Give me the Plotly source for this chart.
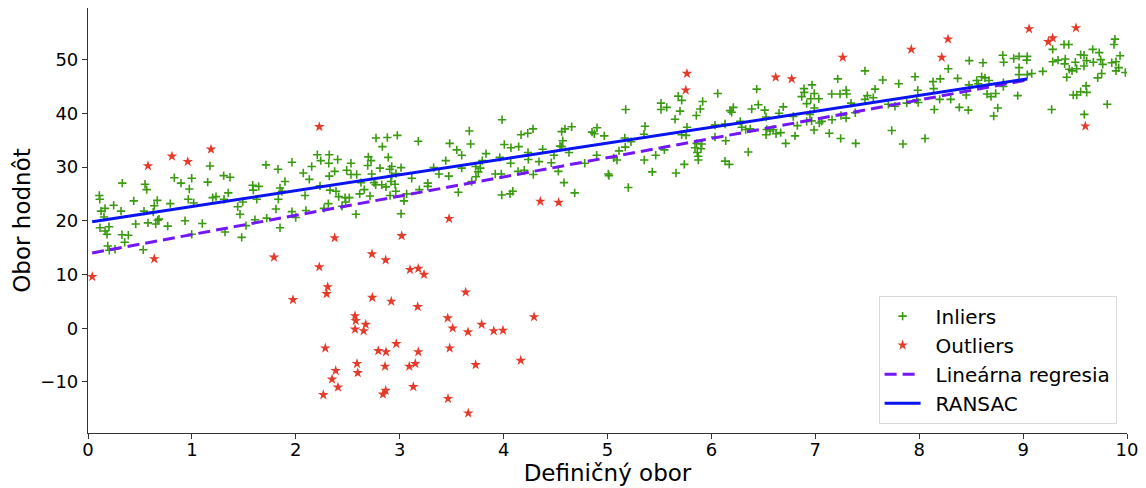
import plotly.graph_objects as go

# Inlier samples (x, y)
inlier_x = [
    0.109, 0.113, 0.330, 0.549, 0.565, 0.831, 0.895, 0.998, 1.174, 1.152, 0.975, 1.306, 0.247, 0.440, 0.667,
    0.638, 0.792, 0.965, 1.017, 1.200, 1.232, 0.164, 0.125, 0.318, 0.539, 0.628, 0.154, 0.683, 0.671, 0.115,
    0.164, 0.202, 0.183, 0.459, 0.577, 0.652, 0.767, 0.934, 1.100, 0.327, 0.388, 0.353, 0.190, 0.260, 0.205,
    0.532, 0.998,
    1.367, 1.713, 1.829, 1.963, 2.207, 2.322, 2.240, 2.317, 2.403, 2.531, 2.072, 2.153, 2.374, 2.490, 2.531,
    2.586, 2.322, 2.130, 1.896, 1.585, 1.643, 1.591, 1.848, 1.867, 1.350, 2.233, 2.329, 2.387, 2.413, 2.474,
    2.515, 2.480, 1.309, 1.489, 1.624, 1.832, 2.089, 1.441, 1.463, 1.809, 1.963, 1.999, 2.098, 2.271, 2.313,
    2.445, 2.579, 1.607, 1.720, 1.521, 1.319, 1.848, 1.479,
    2.772, 2.881, 2.977, 2.833, 3.179, 3.670, 3.683, 3.481, 3.549, 3.597, 3.831, 2.698, 2.724, 2.890, 2.692,
    2.810, 2.904, 2.923, 3.013, 3.443, 3.327, 3.597, 3.731, 3.776, 3.795, 2.731, 2.923, 2.964, 3.116,
    3.378, 3.472, 3.734, 3.756, 2.627, 2.753, 2.769, 2.827, 2.868, 2.916, 2.955, 3.270, 3.270, 3.189, 2.659,
    2.615, 2.714, 2.962, 2.907, 3.067, 3.564, 3.693, 3.041, 3.013,
    3.985, 5.175, 4.168, 4.232, 4.283, 4.559, 4.591, 4.655, 4.569, 4.543, 4.559, 4.851, 4.873, 4.899, 4.969,
    4.007, 4.071, 4.145, 4.235, 4.376, 4.629, 4.485, 3.963, 4.238, 4.341, 4.068, 4.459, 4.896, 5.111, 5.171,
    5.166, 5.060, 5.091, 4.781, 3.920, 3.978, 4.139, 4.199, 4.286, 4.527, 5.008, 5.014, 4.581, 4.088, 4.062,
    3.982, 4.684, 5.200,
    5.515, 5.515, 5.570, 5.681, 5.714, 5.916, 5.893, 6.061, 5.698, 5.855, 5.650, 6.436, 6.451, 6.388,
    6.179, 6.195, 6.211, 5.361, 5.765, 5.351, 6.035, 6.131, 6.278, 6.292, 6.330, 6.374, 5.226, 5.756,
    5.714, 6.035, 6.138, 5.547, 5.858, 5.907, 5.842, 5.900, 5.864, 5.874, 5.874, 5.464, 5.354, 5.739,
    6.355, 6.131, 6.172, 5.431, 5.659,
    7.478, 7.649, 7.803, 7.216, 6.968, 6.891, 6.894, 6.990, 7.296, 7.302, 7.238, 7.158, 7.575, 7.501, 7.478,
    7.558, 6.869, 6.956, 7.033, 6.917, 6.990, 7.344, 6.692, 6.513, 6.651, 6.949, 6.788, 6.526, 7.385, 7.296,
    7.247, 7.161, 6.917, 6.965, 7.039, 7.062, 6.827, 7.767, 7.703, 6.532, 6.564, 6.596, 6.622, 6.526, 6.667,
    6.805, 6.988, 7.135, 6.715, 7.244, 7.389, 7.736,
    8.804, 8.910, 8.961, 9.040, 9.035, 8.813, 8.614, 8.482, 8.280, 8.961, 8.961, 9.040, 9.083, 7.960,
    8.133, 8.203, 8.370, 8.601, 8.633, 8.672, 8.553, 8.569, 8.479, 8.810, 8.810, 7.986, 8.139, 8.453, 8.653,
    8.736, 8.691, 8.948, 8.197, 8.303, 7.976, 7.991, 7.880, 8.386, 8.473, 8.145, 8.756, 8.717, 8.056,
    7.844,
    9.884, 9.875, 9.394, 9.439, 9.285, 9.670, 9.733, 9.554, 9.586, 9.933, 9.285, 9.336, 9.406, 9.400, 9.503,
    9.612, 9.676, 9.747, 9.766, 9.853, 9.894, 9.920, 9.894, 9.984, 9.189, 9.445, 9.471, 9.516, 9.586,
    9.756, 9.718, 9.420, 9.606, 9.554, 9.612, 9.516, 9.483, 9.810, 9.275, 9.589,
]
inlier_y = [
    24.7, 24.0, 27.0, 26.8, 25.8, 28.0, 27.0, 27.9, 30.2, 27.2, 25.9, 28.4, 22.9, 23.7, 23.8,
    22.8, 23.2, 24.0, 23.3, 24.3, 24.5, 22.3, 21.8, 21.8, 21.8, 21.6, 20.7, 20.3, 20.1, 18.7,
    18.1, 18.9, 17.5, 19.4, 19.6, 19.4, 19.0, 20.0, 19.5, 17.4, 17.3, 16.0, 15.3, 14.7, 14.5,
    14.6, 17.5,
    28.1, 30.4, 29.6, 30.9, 32.3, 32.3, 31.2, 30.7, 31.4, 30.7, 28.9, 30.1, 29.2, 29.4, 28.6,
    28.6, 28.3, 27.7, 27.3, 26.6, 26.4, 25.7, 26.1, 25.5, 25.2, 26.5, 25.7, 25.5, 24.5, 24.3,
    24.3, 23.5, 24.0, 23.5, 24.0, 24.0, 24.7, 22.6, 21.2, 22.2, 21.7, 20.6, 21.9, 22.3, 23.2,
    22.7, 21.2, 20.2, 20.5, 19.1, 17.9, 18.7, 16.9,
    35.4, 35.5, 35.9, 33.8, 34.8, 36.7, 34.3, 34.4, 33.2, 32.2, 32.5, 31.9, 31.2, 31.8, 30.3,
    29.8, 29.6, 30.1, 29.9, 31.2, 29.9, 29.8, 30.1, 29.8, 31.2, 28.7, 28.4, 28.8, 27.9,
    28.7, 28.3, 28.2, 29.1, 27.1, 27.1, 26.7, 26.7, 26.3, 27.3, 26.8, 27.0, 26.4, 25.8, 25.8,
    25.0, 24.6, 25.5, 24.7, 25.0, 25.3, 27.3, 23.7, 21.3,
    38.8, 40.7, 36.0, 36.3, 37.1, 36.6, 37.1, 37.5, 34.9, 33.9, 33.8, 36.5, 36.2, 37.3, 35.8,
    34.2, 33.6, 33.8, 32.7, 33.3, 32.7, 32.2, 31.8, 31.4, 31.0, 30.7, 30.8, 32.2, 33.0, 33.7,
    35.4, 31.7, 31.3, 30.7, 28.7, 28.7, 29.2, 29.4, 28.6, 29.2, 28.7, 28.4, 27.1, 25.5, 25.0,
    24.8, 25.2, 26.2,
    41.9, 40.7, 41.1, 43.2, 42.4, 42.2, 40.8, 43.7, 40.4, 39.6, 38.9, 44.5, 41.6, 40.8,
    40.5, 40.2, 41.1, 37.6, 37.4, 36.1, 37.8, 38.0, 38.5, 37.4, 37.0, 37.1, 34.7, 35.9,
    36.0, 35.6, 34.9, 33.2, 34.4, 34.3, 33.6, 33.4, 32.7, 32.0, 31.3, 32.2, 31.3, 30.5,
    32.8, 31.1, 30.5, 29.1, 28.9,
    47.9, 46.2, 45.5, 46.4, 45.3, 44.6, 43.9, 43.7, 44.3, 43.6, 43.6, 43.6, 44.5, 43.3, 42.6,
    42.9, 43.1, 42.7, 42.7, 41.8, 41.0, 41.9, 41.2, 40.6, 40.0, 39.8, 39.4, 39.3, 40.1, 39.1,
    39.6, 38.8, 38.5, 38.6, 38.2, 38.5, 37.7, 41.3, 41.7, 37.0, 36.7, 37.0, 36.2, 36.0, 36.4,
    35.8, 36.9, 36.3, 34.4, 35.3, 34.4, 36.8,
    50.8, 50.2, 50.6, 50.6, 49.9, 49.5, 49.4, 49.8, 48.3, 48.5, 47.2, 47.2, 47.4, 46.8,
    45.9, 46.4, 46.5, 46.8, 46.6, 46.1, 46.1, 45.5, 45.3, 45.7, 45.0, 44.3, 44.6, 43.4, 43.6,
    43.7, 43.1, 43.3, 42.6, 42.6, 42.5, 42.0, 41.9, 41.1, 40.6, 40.7, 41.0, 39.5, 35.3,
    34.3,
    53.8, 52.8, 52.8, 52.8, 51.9, 51.9, 51.3, 50.9, 50.8, 50.7, 49.6, 49.9, 50.1, 49.2, 49.5,
    49.8, 49.5, 50.0, 49.1, 49.4, 49.6, 48.5, 47.9, 47.6, 47.8, 48.2, 47.9, 48.3, 48.8,
    47.4, 46.6, 46.7, 45.1, 44.0, 43.9, 43.4, 43.4, 41.7, 40.7, 39.8,
]

# Outlier samples (x, y)
outlier_x = [
    0.041, 0.577, 0.808, 0.960, 1.184, 0.638, 2.226, 2.374, 3.475, 4.353, 4.530, 5.765, 5.753,
    7.264, 6.619, 6.773, 7.924, 8.277, 8.217, 9.057, 9.509, 9.243, 9.285, 9.599,
    1.790, 2.226, 2.307, 2.297, 1.973, 2.570, 2.577, 2.570, 2.284, 2.589, 2.596, 2.384, 2.349, 2.406, 2.265,
    3.019, 2.733, 2.865, 3.099, 3.179, 3.234, 3.635, 2.736, 2.919, 3.173, 2.673, 2.653, 3.462, 3.510,
    3.657, 3.789, 3.905, 3.994, 4.293, 2.967, 2.794, 2.868, 3.179, 3.481, 2.859, 3.092, 3.150, 3.731,
    4.165, 3.131, 2.865, 2.839, 3.465, 3.660,
]
outlier_y = [
    9.6, 30.2, 32.0, 31.0, 33.3, 12.9, 37.5, 16.8, 20.4, 23.6, 23.4, 47.4, 44.3,
    50.4, 46.7, 46.4, 51.9, 53.8, 50.4, 55.7, 55.9, 53.3, 54.0, 37.6,
    13.2, 11.4, 7.7, 6.4, 5.3, 2.3, 1.4, -0.2, -3.7, -6.6, -8.3, -7.9, -9.5, -11.0, -12.4,
    17.2, 13.8, 12.7, 10.9, 11.1, 10.0, 6.7, 5.7, 5.0, 4.0, 0.7, -0.5, 1.9, 0.0,
    -0.7, 0.7, -0.5, -0.4, 2.1, -2.9, -4.2, -4.4, -4.4, -3.7, -7.1, -7.1, -6.6, -6.8,
    -6.0, -10.9, -11.6, -12.3, -13.1, -15.8,
]

# Fitted lines, evaluated at the ends of the sampled domain
line_x = [0.04, 9.04]
linreg_y = [14.0, 46.2]
ransac_y = [19.8, 46.4]

x_ticks = [0, 1, 2, 3, 4, 5, 6, 7, 8, 9, 10]
y_ticks = [-10, 0, 10, 20, 30, 40, 50]

FONT = "DejaVu Sans, Liberation Sans, sans-serif"
GREEN = "#3a9a10"
RED = "#e53b2b"
GAP = "\u2002"  # small spacing between legend symbol and label

fig = go.Figure()
fig.add_trace(go.Scatter(
    x=inlier_x, y=inlier_y, mode="markers", name=GAP + "Inliers",
    marker=dict(symbol="cross-thin", size=6, color=GREEN,
                line=dict(width=1.6, color=GREEN)),
))
fig.add_trace(go.Scatter(
    x=outlier_x, y=outlier_y, mode="markers", name=GAP + "Outliers",
    marker=dict(symbol="star", size=8, color=RED, line=dict(width=0)),
))
fig.add_trace(go.Scatter(
    x=line_x, y=linreg_y, mode="lines", name=GAP + "Lineárna regresia",
    line=dict(color="#7417f5", width=3, dash="12px,6px"),
))
fig.add_trace(go.Scatter(
    x=line_x, y=ransac_y, mode="lines", name=GAP + "RANSAC",
    line=dict(color="#0a14f0", width=3),
))

fig.update_layout(
    width=1146, height=488,
    margin=dict(l=88, r=19, t=8, b=55),
    paper_bgcolor="white", plot_bgcolor="white",
    font=dict(family=FONT, size=18, color="black"),
    showlegend=True,
    legend=dict(
        x=0.99, xanchor="right", y=0.022, yanchor="bottom",
        bgcolor="white", bordercolor="#d9d9d9", borderwidth=1,
        font=dict(family=FONT, size=20, color="black"),
        itemsizing="trace", itemwidth=36, tracegroupgap=0,
    ),
)
fig.update_xaxes(
    range=[0, 10], tickvals=x_ticks, ticktext=[str(v) for v in x_ticks],
    automargin=False,
    showgrid=False, zeroline=False,
    showline=True, linecolor="#333333", linewidth=1.2,
    ticks="outside", ticklen=5, tickwidth=1.2, tickcolor="#333333",
    tickfont=dict(size=18), ticklabelstandoff=-5,
    title=dict(text="Definičný obor", font=dict(size=23), standoff=4),
)
fig.update_yaxes(
    range=[-19.5, 59.6], tickvals=y_ticks,
    ticktext=[("\u2212" + str(-v)) if v < 0 else str(v) for v in y_ticks],
    automargin=False,
    showgrid=False, zeroline=False,
    showline=True, linecolor="#333333", linewidth=1.2,
    ticks="outside", ticklen=5, tickwidth=1.2, tickcolor="#333333",
    tickfont=dict(size=18),
    title=dict(text="Obor hodnôt", font=dict(size=23), standoff=3),
)

fig.write_html("out.html")
